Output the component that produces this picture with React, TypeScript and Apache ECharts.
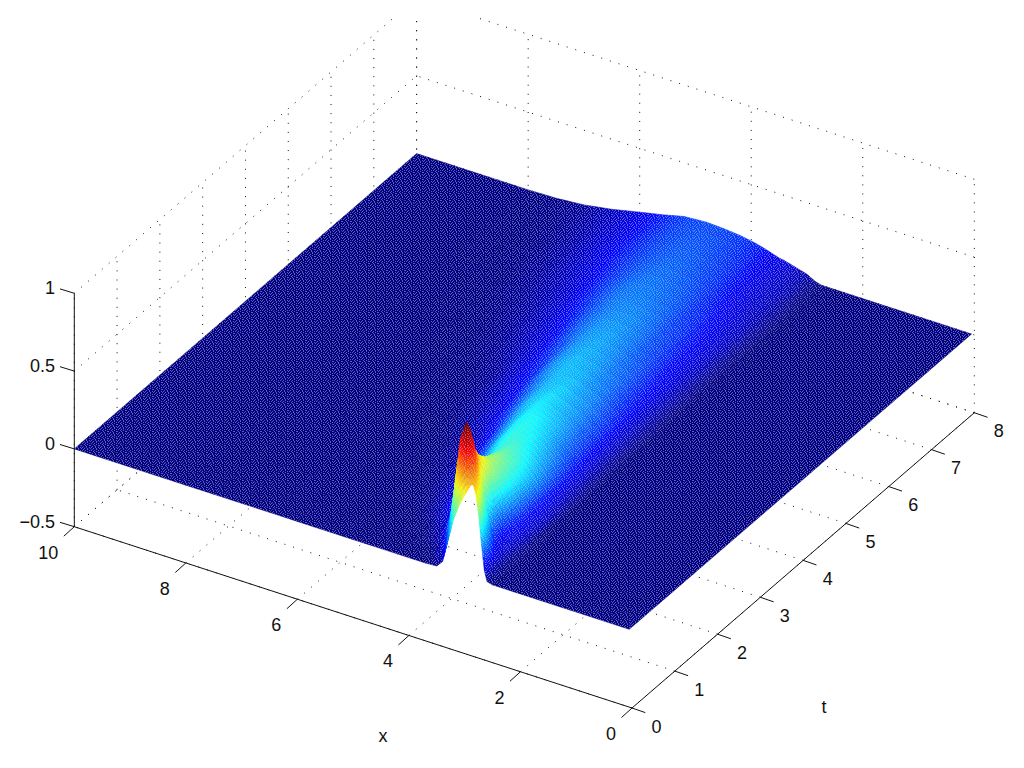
import React, { useEffect, useRef } from "react";
import * as echarts from "echarts";

const xNodes = [0.05, 2.5, 2.6, 2.65, 2.7, 2.75, 2.8, 2.85, 2.9, 3.0, 3.1, 3.2, 3.3, 3.4, 3.5, 3.7, 3.9, 4.2, 4.5, 4.8, 5.2, 5.6, 6.0, 6.5, 7.0, 7.5, 8, 10];
const tNodes = [0, 0.1, 0.2, 0.3, 0.4, 0.5, 0.7, 1, 1.5, 2, 2.5, 3, 4, 5, 6, 7, 8];
const uRows = [
  [0, 0, .01, .08, .24, .42, .55, .61, .59, .52, .44, .34, .19, .045, .005, 0, 0, 0, 0, 0, 0, 0, 0, 0, 0, 0, 0, 0],
  [0, 0, .01, .06, .18, .33, .45, .55, .62, .72, .66, .52, .33, .13, .03, 0, 0, 0, 0, 0, 0, 0, 0, 0, 0, 0, 0, 0],
  [0, 0, .01, .04, .13, .21, .30, .42, .52, .72, .82, .75, .55, .28, .09, .01, 0, 0, 0, 0, 0, 0, 0, 0, 0, 0, 0, 0],
  [0, 0, .01, .03, .10, .14, .20, .30, .40, .60, .78, .89, .78, .48, .19, .02, 0, 0, 0, 0, 0, 0, 0, 0, 0, 0, 0, 0],
  [0, 0, .01, .03, .07, .10, .13, .20, .30, .47, .66, .81, .82, .62, .30, .05, .01, 0, 0, 0, 0, 0, 0, 0, 0, 0, 0, 0],
  [0, 0, .01, .03, .06, .08, .09, .12, .16, .32, .52, .66, .72, .64, .40, .09, .02, 0, 0, 0, 0, 0, 0, 0, 0, 0, 0, 0],
  [0, 0, .01, .03, .07, .08, .085, .09, .11, .22, .40, .50, .58, .57, .46, .20, .05, .005, 0, 0, 0, 0, 0, 0, 0, 0, 0, 0],
  [0, 0, .01, .05, .07, .09, .11, .13, .17, .30, .37, .42, .46, .48, .45, .31, .16, .04, .005, 0, 0, 0, 0, 0, 0, 0, 0, 0],
  [0, 0, 0, .05, .07, .09, .11, .13, .20, .27, .31, .35, .37, .39, .39, .33, .23, .10, .03, .005, 0, 0, 0, 0, 0, 0, 0, 0],
  [0, 0, 0, .02, .04, .07, .09, .12, .15, .20, .24, .27, .30, .32, .34, .35, .30, .17, .07, .02, .003, 0, 0, 0, 0, 0, 0, 0],
  [0, 0, 0, .01, .02, .04, .07, .09, .11, .15, .18, .21, .24, .27, .29, .33, .32, .22, .11, .04, .01, 0, 0, 0, 0, 0, 0, 0],
  [0, 0, 0, 0, .01, .03, .05, .07, .09, .13, .16, .18, .21, .23, .25, .28, .31, .26, .16, .08, .025, .005, 0, 0, 0, 0, 0, 0],
  [0, 0, 0, 0, .01, .02, .03, .05, .06, .10, .12, .14, .16, .18, .20, .22, .25, .27, .23, .14, .07, .02, .004, 0, 0, 0, 0, 0],
  [0, 0, 0, 0, 0, .01, .02, .03, .05, .08, .10, .11, .13, .15, .16, .18, .21, .24, .23, .19, .11, .06, .025, .005, 0, 0, 0, 0],
  [0, 0, 0, 0, 0, .01, .02, .03, .04, .07, .08, .10, .11, .12, .14, .15, .18, .20, .21, .20, .15, .09, .05, .02, .004, 0, 0, 0],
  [0, 0, 0, 0, 0, .005, .01, .02, .03, .05, .06, .07, .08, .09, .10, .13, .15, .17, .185, .18, .155, .12, .08, .035, .01, .002, 0, 0],
  [0, 0, 0, 0, 0, 0, .005, .01, .02, .04, .05, .06, .07, .08, .086, .11, .13, .15, .16, .165, .155, .12, .09, .05, .02, .005, 0, 0],
];
const xTicks = [0, 2, 4, 6, 8, 10];
const tTicks = [0, 1, 2, 3, 4, 5, 6, 7, 8];
const zTicks = [-0.5, 0, 0.5, 1];
const zTickLabels = ["\u22120.5", "0", "0.5", "1"];

const X0 = 0, X1 = 10, T0 = 0, T1 = 8, Z0 = -0.5, Z1 = 1;
const U_MAX = 0.85;
const FONT = '"Liberation Sans", Arial, sans-serif';

// orthographic view of the box, in page pixels
const proj = (x: number, t: number, z: number): [number, number] => [
  632 - 55.77 * x + 42.79 * t,
  708 - 18.13 * x - 36.91 * t - 155.6 * (z - Z0),
];

const clamp = (v: number) => Math.max(0, Math.min(1, v));
const jet = (c0: number) => {
  const c = clamp(c0);
  const r = clamp(1.5 - Math.abs(4 * c - 3));
  const g = clamp(1.5 - Math.abs(4 * c - 2));
  const b = clamp(1.5 - Math.abs(4 * c - 1));
  return `rgb(${Math.round(r * 255)},${Math.round(g * 255)},${Math.round(b * 255)})`;
};

const TILE = [
  "#..#..#..",
  "..#...#..",
  ".#..#...#",
  "...#..#..",
  "#...#...#",
  "..#..#...",
  ".#...#..#",
];

function makeTile(): string {
  const cv = document.createElement("canvas");
  cv.width = TILE[0].length;
  cv.height = TILE.length;
  const ctx = cv.getContext("2d")!;
  ctx.fillStyle = "rgba(190,190,235,0.5)";
  TILE.forEach((row, y) => row.split("").forEach((ch, x) => { if (ch === "#") ctx.fillRect(x, y, 1, 1); }));
  return cv.toDataURL();
}

type Seg = { a: [number, number, number]; b: [number, number, number] };

function wallSegments(): Seg[] {
  const s: Seg[] = [];
  xTicks.forEach((x) => {
    s.push({ a: [x, T0, Z0], b: [x, T1, Z0] });
    s.push({ a: [x, T1, Z0], b: [x, T1, Z1] });
  });
  tTicks.forEach((t) => {
    s.push({ a: [X0, t, Z0], b: [X1, t, Z0] });
    s.push({ a: [X1, t, Z0], b: [X1, t, Z1] });
  });
  zTicks.forEach((z) => {
    s.push({ a: [X0, T1, z], b: [X1, T1, z] });
    s.push({ a: [X1, T0, z], b: [X1, T1, z] });
  });
  return s;
}

function axisSegments(): { a: [number, number]; b: [number, number] }[] {
  const s: { a: [number, number]; b: [number, number] }[] = [
    { a: proj(X0, T0, Z0), b: proj(X1, T0, Z0) },
    { a: proj(X0, T0, Z0), b: proj(X0, T1, Z0) },
    { a: proj(X1, T0, Z0), b: proj(X1, T0, Z1) },
  ];
  xTicks.forEach((x) => { const p = proj(x, T0, Z0); s.push({ a: p, b: [p[0] - 10.5, p[1] + 9.5] }); });
  tTicks.forEach((t) => { const p = proj(X0, t, Z0); s.push({ a: p, b: [p[0] + 13.3, p[1] + 4.6] }); });
  zTicks.forEach((z) => { const p = proj(X1, T0, z); s.push({ a: p, b: [p[0] - 14.3, p[1] - 4.4] }); });
  return s;
}

function labelItems() {
  const l: { text: string; x: number; y: number; align: string }[] = [];
  xTicks.forEach((x) => { const p = proj(x, T0, Z0); l.push({ text: String(x), x: p[0] - 16, y: p[1] + 26, align: "right" }); });
  tTicks.forEach((t) => { const p = proj(X0, t, Z0); l.push({ text: String(t), x: p[0] + 24.5, y: p[1] + 18.5, align: "center" }); });
  zTicks.forEach((z, i) => { const p = proj(X1, T0, z); l.push({ text: zTickLabels[i], x: 55, y: p[1] - 5, align: "right" }); });
  l.push({ text: "x", x: 383, y: 736, align: "center" });
  l.push({ text: "t", x: 824, y: 707, align: "center" });
  return l;
}

export default function App() {
  const ref = useRef<HTMLDivElement>(null);
  useEffect(() => {
    document.body.style.margin = "0";
    const chart = echarts.init(ref.current!, undefined, { renderer: "svg" });
    const tile = { image: makeTile(), repeat: "repeat" };
    const walls = wallSegments();
    const axes = axisSegments();
    const labels = labelItems();

    const cells: number[][] = [];
    for (let j = tNodes.length - 2; j >= 0; j--) {
      for (let i = xNodes.length - 2; i >= 0; i--) cells.push([i, j]);
    }

    const surfaceItem = (params: any, api: any) => {
      const i = api.value(0), j = api.value(1);
      const c = (p: [number, number]) => api.coord(p);
      const u00 = uRows[j][i], u10 = uRows[j][i + 1], u01 = uRows[j + 1][i], u11 = uRows[j + 1][i + 1];
      const x0 = xNodes[i], x1 = xNodes[i + 1], t0 = tNodes[j], t1 = tNodes[j + 1];
      const flat = u00 === 0 && u10 === 0 && u01 === 0 && u11 === 0;
      const n = flat ? 1 : 4;
      const at = (a: number, b: number) => {
        const u = (1 - a) * (1 - b) * u00 + a * (1 - b) * u10 + (1 - a) * b * u01 + a * b * u11;
        return { u, pt: c(proj(x0 + (x1 - x0) * a, t0 + (t1 - t0) * b, u)) };
      };
      const children: any[] = [];
      for (let bi = n - 1; bi >= 0; bi--) {
        for (let ai = n - 1; ai >= 0; ai--) {
          const p00 = at(ai / n, bi / n), p10 = at((ai + 1) / n, bi / n), p11 = at((ai + 1) / n, (bi + 1) / n), p01 = at(ai / n, (bi + 1) / n);
          const col = jet((p00.u + p10.u + p11.u + p01.u) / 4 / U_MAX);
          children.push({
            type: "polygon",
            shape: { points: [p00.pt, p10.pt, p11.pt, p01.pt] },
            style: { fill: col, stroke: col, lineWidth: 0.5 },
            silent: true,
          });
        }
      }
      children.push({
        type: "polygon",
        shape: { points: [at(0, 0).pt, at(1, 0).pt, at(1, 1).pt, at(0, 1).pt] },
        style: { fill: tile },
        silent: true,
      });
      return { type: "group", children };
    };

    chart.setOption({
      animation: false,
      tooltip: { show: false },
      grid: { left: 0, right: 0, top: 18, bottom: 0 },
      xAxis: { type: "value", min: 0, max: 1024, show: false },
      yAxis: { type: "value", min: 18, max: 768, inverse: true, show: false },
      series: [
        {
          type: "custom",
          clip: true,
          silent: true,
          coordinateSystem: "cartesian2d",
          data: walls.map((_, k) => [k, 100]),
          encode: { x: 0, y: 1 },
          renderItem: (_p: any, api: any) => {
            const s = walls[api.value(0)];
            const a = api.coord(proj(s.a[0], s.a[1], s.a[2]));
            const b = api.coord(proj(s.b[0], s.b[1], s.b[2]));
            return {
              type: "line",
              shape: { x1: a[0], y1: a[1], x2: b[0], y2: b[1] },
              style: { stroke: "#111", lineWidth: 1, lineDash: [1, 8.1], fill: null },
            };
          },
        },
        {
          type: "custom",
          silent: true,
          coordinateSystem: "cartesian2d",
          data: cells,
          encode: { x: 0, y: 1 },
          renderItem: surfaceItem,
        },
        {
          type: "custom",
          silent: true,
          coordinateSystem: "cartesian2d",
          data: axes.map((_, k) => [k, 100]),
          encode: { x: 0, y: 1 },
          renderItem: (_p: any, api: any) => {
            const s = axes[api.value(0)];
            const a = api.coord(s.a), b = api.coord(s.b);
            return {
              type: "line",
              shape: { x1: a[0], y1: a[1], x2: b[0], y2: b[1] },
              style: { stroke: "#111", lineWidth: 1, fill: null },
            };
          },
        },
        {
          type: "custom",
          silent: true,
          coordinateSystem: "cartesian2d",
          data: labels.map((_, k) => [k, 100]),
          encode: { x: 0, y: 1 },
          renderItem: (_p: any, api: any) => {
            const l = labels[api.value(0)];
            const p = api.coord([l.x, l.y]);
            return {
              type: "text",
              x: p[0],
              y: p[1],
              style: {
                text: l.text,
                textAlign: l.align,
                textVerticalAlign: "middle",
                fontSize: 18,
                fontFamily: FONT,
                fill: "#111",
              },
            };
          },
        },
      ],
    });
    return () => chart.dispose();
  }, []);
  return <div ref={ref} style={{ width: 1024, height: 768 }} />;
}
